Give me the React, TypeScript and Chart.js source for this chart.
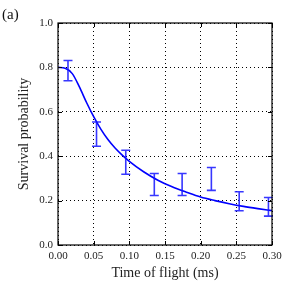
import React, { useEffect, useRef } from "react";
import { Chart, registerables } from "chart.js";

Chart.register(...registerables);

// Fitted curve
const curveTimes = [0, 0.01, 0.02, 0.03, 0.04, 0.05, 0.06, 0.07, 0.08, 0.09, 0.1, 0.12, 0.14, 0.16, 0.18, 0.2, 0.22, 0.24, 0.26, 0.28, 0.3];
const curveSurvival = [0.8, 0.796, 0.772, 0.712, 0.642, 0.578, 0.522, 0.475, 0.437, 0.405, 0.377, 0.33, 0.292, 0.262, 0.238, 0.216, 0.2, 0.186, 0.174, 0.164, 0.155];

// Measured points with error bars
const measTimes = [0.014, 0.054, 0.095, 0.135, 0.174, 0.215, 0.254, 0.295];
const measLower = [0.74, 0.445, 0.319, 0.223, 0.223, 0.246, 0.154, 0.13];
const measUpper = [0.831, 0.554, 0.427, 0.322, 0.322, 0.349, 0.24, 0.214];

// Ticks
const xTicks = [0, 0.05, 0.1, 0.15, 0.2, 0.25, 0.3];
const yTicks = [0, 0.2, 0.4, 0.6, 0.8, 1.0];

const SERIF = "'Liberation Serif', 'DejaVu Serif', serif";

const framePlugin = {
  id: "frameAndErrors",
  afterDatasetsDraw(chart: any) {
    const { ctx, scales } = chart;
    const xs = scales.x;
    const ys = scales.y;
    ctx.save();
    ctx.strokeStyle = "rgba(20,20,255,0.85)";
    ctx.lineWidth = 1.6;
    const cap = 4.5;
    for (let i = 0; i < measTimes.length; i++) {
      const px = xs.getPixelForValue(measTimes[i]);
      const yl = ys.getPixelForValue(measLower[i]);
      const yh = ys.getPixelForValue(measUpper[i]);
      ctx.beginPath();
      ctx.moveTo(px, yl);
      ctx.lineTo(px, yh);
      ctx.moveTo(px - cap, yl);
      ctx.lineTo(px + cap, yl);
      ctx.moveTo(px - cap, yh);
      ctx.lineTo(px + cap, yh);
      ctx.stroke();
    }
    ctx.restore();
  },
  afterDraw(chart: any) {
    const { ctx, chartArea, scales } = chart;
    const { left, right, top, bottom } = chartArea;
    ctx.save();
    ctx.strokeStyle = "#000";
    ctx.lineWidth = 1;
    const tl = 4;
    ctx.beginPath();
    for (const v of xTicks) {
      const px = Math.round(scales.x.getPixelForValue(v)) + 0.5;
      ctx.moveTo(px, bottom);
      ctx.lineTo(px, bottom - tl);
      ctx.moveTo(px, top);
      ctx.lineTo(px, top + tl);
    }
    for (const v of yTicks) {
      const py = Math.round(scales.y.getPixelForValue(v)) + 0.5;
      ctx.moveTo(left, py);
      ctx.lineTo(left + tl, py);
      ctx.moveTo(right, py);
      ctx.lineTo(right - tl, py);
    }
    ctx.stroke();
    ctx.lineWidth = 1.2;
    ctx.strokeRect(left, top, right - left, bottom - top);
    ctx.fillStyle = "#111";
    ctx.font = `15px ${SERIF}`;
    ctx.textAlign = "left";
    ctx.textBaseline = "middle";
    ctx.fillText("(a)", 2, 15);
    ctx.restore();
  },
};

export default function App() {
  const ref = useRef<HTMLCanvasElement>(null);
  useEffect(() => {
    if (!ref.current) return;
    const chart = new Chart(ref.current, {
      type: "scatter",
      data: {
        datasets: [
          {
            label: "Fit",
            data: curveTimes.map((t, i) => ({ x: t, y: curveSurvival[i] })),
            showLine: true,
            borderColor: "#0000ff",
            borderWidth: 1.6,
            pointRadius: 0,
            cubicInterpolationMode: "monotone",
          },
          {
            label: "Measured",
            data: measTimes.map((t, i) => ({ x: t, y: (measLower[i] + measUpper[i]) / 2 })),
            pointRadius: 0,
            showLine: false,
          },
        ],
      },
      options: {
        animation: false,
        responsive: true,
        maintainAspectRatio: false,
        layout: { padding: { top: 23, right: 28, left: 0, bottom: 0 } },
        plugins: { legend: { display: false }, tooltip: { enabled: false } },
        scales: {
          x: {
            type: "linear",
            min: 0,
            max: 0.3,
            afterBuildTicks: (scale: any) => {
              scale.ticks = xTicks.map((v) => ({ value: v }));
            },
            afterFit: (scale: any) => {
              scale.height = 55;
            },
            grid: { color: "#000", lineWidth: 1, drawTicks: false },
            border: { display: false, dash: [1, 3] },
            ticks: {
              padding: 5,
              color: "#222",
              font: { family: SERIF, size: 11 },
              maxRotation: 0,
              callback: (v: any) => Number(v).toFixed(2),
            },
            title: {
              display: true,
              text: "Time of flight (ms)",
              color: "#222",
              font: { family: SERIF, size: 14 },
              padding: { top: 0, bottom: 18 },
            },
          },
          y: {
            type: "linear",
            min: 0,
            max: 1,
            afterBuildTicks: (scale: any) => {
              scale.ticks = yTicks.map((v) => ({ value: v }));
            },
            afterFit: (scale: any) => {
              scale.width = 58;
            },
            grid: { color: "#000", lineWidth: 1, drawTicks: false },
            border: { display: false, dash: [1, 3] },
            ticks: {
              padding: 5,
              color: "#222",
              font: { family: SERIF, size: 11 },
              callback: (v: any) => Number(v).toFixed(1),
            },
            title: {
              display: true,
              text: "Survival probability",
              color: "#222",
              font: { family: SERIF, size: 14 },
              padding: { top: 16, bottom: 0 },
            },
          },
        },
      },
      plugins: [framePlugin],
    } as any);
    return () => chart.destroy();
  }, []);
  return (
    <div style={{ position: "absolute", left: 0, top: 0, width: 300, height: 300 }}>
      <canvas ref={ref} width={300} height={300} />
    </div>
  );
}
